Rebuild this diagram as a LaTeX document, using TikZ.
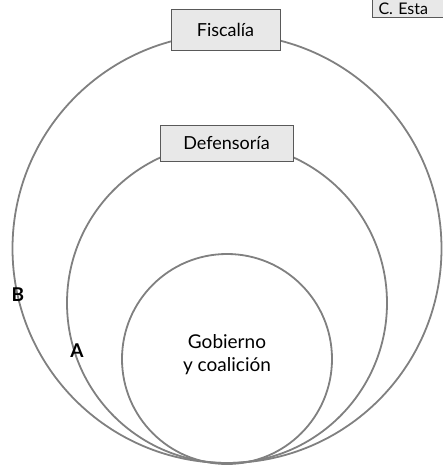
\documentclass[tikz,border=0pt]{standalone}
\usepackage{fontspec}
\setmainfont{Lato}
\begin{document}
\begin{tikzpicture}[x=1pt,y=-1pt,
    ring/.style={draw=black!50, line width=1.8pt},
    caja/.style={draw=black!65, fill=black!9, line width=1pt, inner sep=0pt,
      font=\fontsize{18}{20}\selectfont},
    letra/.style={font=\fontsize{19}{20}\selectfont\bfseries}]
    \useasboundingbox (0,0) rectangle (443,467);
    \clip (0,0) rectangle (443,467);
    % circulos tangentes abajo
    \draw[ring] (227,248.5) circle (214.5);
    \draw[ring] (227,303) circle (160);
    \node[ring, circle, minimum size=210pt, inner sep=0pt, align=center,
      font=\fontsize{19}{23}\selectfont] (gobierno) at (227,359)
      {\raisebox{0pt}{}\\[-17pt]Gobierno\\y coalición};
    % cajas
    \node[caja, minimum width=109pt, minimum height=41pt] (fiscalia) at (225.5,29.5) {Fiscalía};
    \node[caja, minimum width=133pt, minimum height=36pt] (defensoria) at (226.5,143) {Defensoría};
    \node[caja, anchor=south west, font=\fontsize{16}{18}\selectfont,
      text width=62pt, text height=14pt, text depth=0pt,
      inner xsep=6pt, inner ysep=3pt] (estado) at (372,18) {C. Esta};
    % letras
    \node[letra] (b) at (18,295) {B};
    \node[letra] (a) at (77,351) {A};
\end{tikzpicture}
\end{document}
